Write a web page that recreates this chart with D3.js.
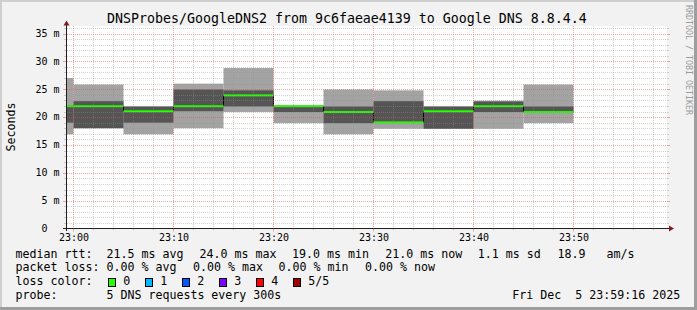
<!DOCTYPE html>
<html><head><meta charset="utf-8">
<script src="https://cdn.jsdelivr.net/npm/d3@7"></script>
<style>
html,body{margin:0;padding:0;background:#f2f2f2;}
svg{display:block;}
text{font-family:"DejaVu Sans Mono",monospace;white-space:pre;}
</style></head>
<body>
<svg id="chart" width="697" height="310"></svg>
<script>
// ---- data ----
const title = "DNSProbes/GoogleDNS2 from 9c6faeae4139 to Google DNS 8.8.4.4";
const yLabel = "Seconds";
const watermark = "RRDTOOL / TOBI OETIKER";
const intervalEnds = ["23:00","23:05","23:10","23:15","23:20","23:25","23:30","23:35","23:40","23:45","23:50"];
const ping1  = [16.9, 18.0, 16.9, 18.0, 20.9, 18.9, 16.9, 17.9, 17.9, 17.9, 18.9];
const ping2  = [19.0, 18.0, 19.0, 21.05, 21.9, 20.9, 18.9, 19.0, 17.9, 20.9, 20.9];
const median = [21.95, 21.95, 21.05, 21.95, 23.9, 21.95, 20.9, 19.05, 21.05, 21.95, 20.9];
const ping4  = [22.0, 22.85, 21.9, 24.95, 24.8, 21.95, 21.9, 22.85, 21.9, 22.8, 21.9];
const ping5  = [27.0, 25.85, 21.9, 26.0, 28.8, 21.95, 24.95, 24.8, 21.9, 22.95, 25.85];
const yTicks = [0, 5, 10, 15, 20, 25, 30, 35];
const yTickLabels = ["0  ", "5 m", "10 m", "15 m", "20 m", "25 m", "30 m", "35 m"];
const xTickLabels = ["23:00","23:10","23:20","23:30","23:40","23:50"];
const lossNames = ["0","1","2","3","4","5/5"];
const lossColors = ["#26ff00","#00b8ff","#0059ff","#7e00ff","#ff0000","#a10000"];
const legendRtt = [["median rtt:",15.5],["21.5 ms avg",106.45],["24.0 ms max",199.45],["19.0 ms min",292.0],["21.0 ms now",385.15],["1.1 ms sd",477.7],["18.9   am/s",557.4]];
const legendLoss = [["packet loss:",15.5],["0.00 % avg",106.5],["0.00 % max",192.9],["0.00 % min",278.5],["0.00 % now",364.9]];
const probeText = ["probe:", "5 DNS requests every 300s"];
const dateText = "Fri Dec  5 23:59:16 2025";

// ---- layout ----
const W = 697, H = 310;
const svg = d3.select("#chart");
const day = (hm, s=0) => { const [h,m] = hm.split(":").map(Number); return new Date(2025, 11, 5, h, m, s); };
const x = d3.scaleTime().domain([day("22:59", 21), day("23:59", 21)]).range([67, 667]);
const y = d3.scaleLinear().domain([0, 35]).range([228.5, 33.5]);
const canvasTop = 26, canvasBottom = 228.5, canvasLeft = 67, canvasRight = 667;

// background & shading frame
svg.append("rect").attr("width", W).attr("height", H).attr("fill", "#f2f2f2");
svg.append("rect").attr("x",0).attr("y",0).attr("width",W).attr("height",2).attr("fill","#cfcfcf");
svg.append("rect").attr("x",0).attr("y",0).attr("width",2).attr("height",H).attr("fill","#cfcfcf");
svg.append("rect").attr("x",0).attr("y",H-3).attr("width",W).attr("height",3).attr("fill","#9e9e9e");
svg.append("rect").attr("x",W-3).attr("y",0).attr("width",3).attr("height",H).attr("fill","#9e9e9e");

// canvas
svg.append("rect").attr("x", canvasLeft).attr("y", canvasTop)
  .attr("width", canvasRight - canvasLeft).attr("height", canvasBottom - canvasTop).attr("fill", "#ffffff");

svg.append("clipPath").attr("id","clip").append("rect")
  .attr("x", canvasLeft).attr("y", canvasTop).attr("width", canvasRight - canvasLeft).attr("height", canvasBottom - canvasTop);

const bars = intervalEnds.map((t, i) => {
  const end = day(t);
  const start = new Date(end.getTime() - 300000);
  return {start, end, p1: ping1[i], p2: ping2[i], med: median[i], p4: ping4[i], p5: ping5[i]};
});

const g = svg.append("g").attr("clip-path", "url(#clip)");
// outer smoke
g.selectAll("rect.outer").data(bars).join("rect").attr("class","outer")
  .attr("x", d => x(d.start)).attr("width", d => x(d.end) - x(d.start))
  .attr("y", d => y(d.p5)).attr("height", d => y(d.p1) - y(d.p5))
  .attr("fill", "#a3a3a3");
// inner smoke
g.selectAll("rect.inner").data(bars).join("rect").attr("class","inner")
  .attr("x", d => x(d.start)).attr("width", d => x(d.end) - x(d.start))
  .attr("y", d => y(d.p4)).attr("height", d => y(d.p2) - y(d.p4))
  .attr("fill", "#555555");
// black step line under median
const pts = [];
bars.forEach(d => { pts.push([x(d.start), y(d.med)]); pts.push([x(d.end), y(d.med)]); });
g.append("path").attr("d", d3.line()(pts)).attr("fill","none").attr("stroke","#000").attr("stroke-width",1);
// green median band
g.selectAll("rect.med").data(bars).join("rect").attr("class","med")
  .attr("x", d => x(d.start)).attr("width", d => x(d.end) - x(d.start))
  .attr("y", d => y(d.med) - 1).attr("height", 2)
  .attr("fill", lossColors[0]);

// grid (drawn on top, semi-transparent as rrdtool)
const minorCol = "rgba(143,143,143,0.4)", majorCol = "rgba(222,79,79,0.5)";
const yMinor = d3.range(1, 37).filter(v => v % 5 !== 0);
const gridG = svg.append("g");
yMinor.forEach(v => {
  const yy = Math.round(y(v)) + 0.5;
  if (yy < canvasTop) return;
  gridG.append("line").attr("x1", canvasLeft).attr("x2", canvasRight).attr("y1", yy).attr("y2", yy)
    .attr("stroke", minorCol).attr("stroke-dasharray", "1,1");
  gridG.append("line").attr("x1", 64).attr("x2", 66).attr("y1", yy).attr("y2", yy).attr("stroke", minorCol);
  gridG.append("line").attr("x1", canvasRight).attr("x2", canvasRight + 2).attr("y1", yy).attr("y2", yy).attr("stroke", minorCol);
});
const xMinor = d3.timeMinute.every(2).range(day("23:00"), day("23:59", 30)).filter(t => t.getMinutes() % 10 !== 0);
xMinor.forEach(t => {
  const xx = Math.round(x(t) - 0.5) + 0.5;
  gridG.append("line").attr("x1", xx).attr("x2", xx).attr("y1", canvasTop).attr("y2", canvasBottom)
    .attr("stroke", minorCol).attr("stroke-dasharray", "1,1");
  gridG.append("line").attr("x1", xx).attr("x2", xx).attr("y1", canvasBottom).attr("y2", canvasBottom + 2).attr("stroke", minorCol);
});
yTicks.forEach(v => {
  if (v === 0) return;
  const yy = Math.round(y(v)) + 0.5;
  gridG.append("line").attr("x1", canvasLeft).attr("x2", canvasRight).attr("y1", yy).attr("y2", yy)
    .attr("stroke", majorCol).attr("stroke-dasharray", "1,1");
  gridG.append("line").attr("x1", 63).attr("x2", 66).attr("y1", yy).attr("y2", yy).attr("stroke", majorCol);
  gridG.append("line").attr("x1", canvasRight).attr("x2", canvasRight + 3).attr("y1", yy).attr("y2", yy).attr("stroke", majorCol);
});
xTickLabels.forEach(lbl => {
  const xx = Math.round(x(day(lbl)) - 0.5) + 0.5;
  gridG.append("line").attr("x1", xx).attr("x2", xx).attr("y1", canvasTop).attr("y2", canvasBottom)
    .attr("stroke", majorCol).attr("stroke-dasharray", "1,1");
  gridG.append("line").attr("x1", xx).attr("x2", xx).attr("y1", canvasBottom).attr("y2", canvasBottom + 3).attr("stroke", majorCol);
});

// axes
svg.append("line").attr("x1", 63).attr("x2", 670).attr("y1", 228.5).attr("y2", 228.5).attr("stroke", "#1f1f1f");
svg.append("line").attr("x1", 66.5).attr("x2", 66.5).attr("y1", 231).attr("y2", 25).attr("stroke", "#1f1f1f");
svg.append("path").attr("d", "M669,225.5L674,228.5L669,231.5Z").attr("fill", "#801f1f");
svg.append("path").attr("d", "M63.5,25.5L66.5,20.5L69.5,25.5Z").attr("fill", "#801f1f");

// y tick labels
svg.append("g").selectAll("text").data(yTicks).join("text")
  .attr("x", 59.6).attr("y", d => y(d) + 3.4).attr("text-anchor", "end")
  .attr("font-size", "10px").attr("fill", "#000").text((d, i) => yTickLabels[i]);
// x tick labels
svg.append("g").selectAll("text").data(xTickLabels).join("text")
  .attr("x", d => x(day(d)) + 0.5).attr("y", 241).attr("text-anchor", "middle")
  .attr("font-size", "10px").attr("fill", "#000").text(d => d);

// title
svg.append("text").attr("x", 107).attr("y", 23).attr("font-size", "13.29px").attr("fill", "#000").text(title);
// y label
svg.append("text").attr("transform", "translate(15,127) rotate(-90)").attr("text-anchor", "middle")
  .attr("font-size", "11.63px").attr("fill", "#000").text(yLabel);
// watermark
svg.append("text").attr("transform", "translate(685.5,5) rotate(90)").attr("text-anchor", "start")
  .attr("font-size", "8.3px").attr("fill", "#9a9a9a").text(watermark);

// legend
const lf = "11.63px";
legendRtt.forEach(([t, xx]) => svg.append("text").attr("x", xx).attr("y", 257.7).attr("font-size", lf).text(t));
legendLoss.forEach(([t, xx]) => svg.append("text").attr("x", xx).attr("y", 271.3).attr("font-size", lf).text(t));
svg.append("text").attr("x", 15.5).attr("y", 285).attr("font-size", lf).text("loss color:");
lossNames.forEach((n, i) => {
  const bx = 109 + 37 * i;
  svg.append("rect").attr("x", bx - 0.5).attr("y", 278.5).attr("width", 7).attr("height", 8)
    .attr("fill", lossColors[i]).attr("stroke", "#000").attr("stroke-width", 1);
  svg.append("text").attr("x", bx + 14.3).attr("y", 285).attr("font-size", lf).text(n);
});
svg.append("text").attr("x", 15.5).attr("y", 298.5).attr("font-size", lf).text(probeText[0]);
svg.append("text").attr("x", 106.4).attr("y", 298.5).attr("font-size", lf).text(probeText[1]);
svg.append("text").attr("x", 680.2).attr("y", 298.5).attr("text-anchor", "end").attr("font-size", lf).text(dateText);
</script>
</body></html>
